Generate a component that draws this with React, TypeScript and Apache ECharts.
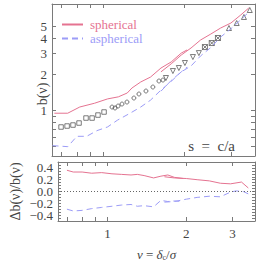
import React, { useEffect, useRef } from "react";
import * as echarts from "echarts";

// ---- data ----
const sphA_nu = [0.66, 0.74, 0.82, 0.93, 1.04, 1.14, 1.23, 1.28, 1.38, 1.5, 1.64, 1.79, 1.95, 2.05];
const sphA_b = [0.95, 0.95, 1.07, 1.15, 1.25, 1.3, 1.4, 1.54, 1.73, 1.9, 2.26, 2.54, 3.01, 3.2];
const sphB_nu = [1.64, 1.79, 1.95, 2.12, 2.3, 2.51, 2.73, 2.98, 3.24, 3.47];
const sphB_b = [2.1, 2.45, 2.9, 3.32, 3.87, 4.34, 4.87, 5.36, 6.25, 7.15];
const aspA_nu = [0.65, 0.74, 0.8, 0.87, 0.95, 1.04, 1.13, 1.26, 1.38, 1.5, 1.64, 1.79, 1.95, 2.05];
const aspA_b = [0.51, 0.5, 0.61, 0.61, 0.68, 0.73, 0.83, 0.95, 1.07, 1.22, 1.48, 1.75, 2.1, 2.3];
const aspB_nu = [1.64, 1.79, 1.95, 2.12, 2.3, 2.51, 2.73, 2.98, 3.24, 3.47];
const aspB_b = [1.45, 1.78, 2.1, 2.35, 2.85, 3.35, 4.1, 4.8, 5.7, 6.6];

const sq_nu = [0.699, 0.736, 0.774, 0.815, 0.865, 0.911, 0.958, 1.009];
const sq_b = [0.729, 0.743, 0.757, 0.787, 0.866, 0.866, 0.917, 0.972];
const ci_nu = [1.08, 1.108, 1.137, 1.176, 1.227, 1.302, 1.359, 1.443, 1.531, 1.612, 1.668];
const ci_b = [1.069, 1.05, 1.09, 1.133, 1.177, 1.271, 1.373, 1.454, 1.57, 1.762, 1.795];
const it_nu = [1.711, 1.816, 1.911, 2.012, 2.154, 2.267];
const it_b = [1.866, 2.133, 2.26, 2.488, 2.79, 3.01];
const xs_nu = [2.387, 2.53, 2.667];
const xs_b = [3.38, 3.65, 4.02];
const tr_nu = [2.93, 3.13, 3.33, 3.5];
const tr_b = [4.87, 5.36, 6.02, 6.88];

const dSphA_nu = [0.7, 0.74, 0.8, 0.87, 0.95, 1.04, 1.13, 1.23, 1.3, 1.38, 1.5, 1.6, 1.7, 1.8, 1.95];
const dSphA = [0.36, 0.33, 0.33, 0.31, 0.32, 0.3, 0.29, 0.28, 0.29, 0.27, 0.23, 0.26, 0.28, 0.24, 0.22];
const dSphB_nu = [1.65, 1.8, 2.0, 2.2, 2.45, 2.7, 2.95, 3.25, 3.45];
const dSphB = [0.25, 0.23, 0.22, 0.2, 0.18, 0.14, 0.13, 0.16, 0.06];
const dAspA_nu = [0.7, 0.74, 0.8, 0.87, 0.95, 1.04, 1.13, 1.23, 1.3, 1.38, 1.5, 1.6, 1.7, 1.8, 1.95];
const dAspA = [-0.3, -0.33, -0.32, -0.29, -0.27, -0.25, -0.23, -0.22, -0.25, -0.24, -0.26, -0.15, -0.17, -0.16, -0.17];
const dAspB_nu = [1.65, 1.8, 2.0, 2.2, 2.45, 2.7, 2.95, 3.1, 3.3, 3.45];
const dAspB = [-0.18, -0.17, -0.13, -0.1, -0.08, -0.09, -0.01, 0.01, 0.0, -0.04];

const xTicks = [0.7, 0.8, 0.9, 1, 2, 3];
const xLabels = [1, 2, 3];
const yTopTicks = [0.5, 0.6, 0.7, 0.8, 0.9, 1, 2, 3, 4, 5];
const yTopLabels = [1, 2, 3, 4, 5];
const yBotLabels = [-0.4, -0.2, 0, 0.2, 0.4];
const yBotTicks = [-0.45, -0.4, -0.35, -0.3, -0.25, -0.2, -0.15, -0.1, -0.05, 0, 0.05, 0.1, 0.15, 0.2, 0.25, 0.3, 0.35, 0.4, 0.45];

const PINK = "#e57391";
const BLUE = "#9c9cf7";
const AX = "#7a7a7a";
const LBL = "#444";
const FONT = "Liberation Serif";

const zip = (a: number[], b: number[]) => a.map((v, i) => [v, b[i]]);

export default function App() {
  const ref = useRef<HTMLDivElement>(null);
  useEffect(() => {
    if (!ref.current) return;
    const chart = echarts.init(ref.current, undefined, { renderer: "svg" });
    const xMin = 0.647, xMax = 3.66;
    const yTopMin = 0.418, yTopMax = 7.72;
    const yBotMin = -0.5, yBotMax = 0.5;
    const frameLine = { show: true, lineStyle: { color: AX, width: 1 } };
    const lblBase = { color: LBL, fontFamily: FONT, fontSize: 13, lineHeight: 11 };
    const mkX = (gi: number, pos: string, labels: boolean, extra: any = {}) => ({
      type: "log", gridIndex: gi, min: xMin, max: xMax, position: pos,
      axisLine: { ...frameLine, onZero: false },
      axisTick: { show: true, inside: true, length: 4, customValues: xTicks, lineStyle: { color: AX } },
      axisLabel: labels
        ? { show: true, customValues: xLabels, ...lblBase, lineHeight: 13, margin: 6 }
        : { show: false },
      splitLine: { show: false }, minorTick: { show: false },
      ...extra,
    });
    const fmtBot = (v: number) => (v < 0 ? "\u2212" + Math.abs(v).toFixed(1) : v.toFixed(1));
    // one label-only axis per tick label, so no label is dropped for overlap
    const labelAxes = (gi: number, type: string, min: number, max: number, vals: number[], fmt?: (v: number) => string) =>
      vals.map((v) => ({
        type, gridIndex: gi, min, max, position: "left",
        axisLine: { show: false, onZero: false }, axisTick: { show: false }, splitLine: { show: false },
        axisLabel: { show: true, customValues: [v], ...lblBase, margin: 5, showMinLabel: true, showMaxLabel: true, ...(fmt ? { formatter: fmt } : {}) },
      }));
    const lineS = (name: string, xi: number, yi: number, d: number[][], color: string, dashed: boolean, extra: any = {}) => ({
      type: "line", name, xAxisIndex: xi, yAxisIndex: yi, data: d, symbol: "none",
      lineStyle: { color, width: 1, type: dashed ? [6, 4] : "solid" }, itemStyle: { color },
      ...extra,
    });
    const mark = (sym: string, d: number[][], size: number, rot = 0) => ({
      type: "scatter", xAxisIndex: 0, yAxisIndex: 0, data: d, symbol: sym, symbolSize: size, symbolRotate: rot,
      itemStyle: { color: "none", borderColor: "#333", borderWidth: 0.8 },
    });
    chart.setOption({
      animation: false,
      grid: [
        { left: 52, right: 7, top: 4, height: 152 },
        { left: 52, right: 7, top: 162, height: 60 },
      ],
      legend: {
        left: 56, top: 13, orient: "vertical", itemWidth: 21, itemHeight: 10, itemGap: 1,
        itemStyle: { opacity: 0 },
        data: [
          { name: "spherical", textStyle: { color: PINK } },
          { name: "aspherical", textStyle: { color: BLUE } },
        ],
        textStyle: { fontFamily: FONT, fontSize: 13, padding: [0, 0, 0, 2] },
      },
      xAxis: [
        mkX(0, "bottom", false),
        mkX(0, "top", false),
        mkX(1, "bottom", true, {
          name: "{i|ν} = {i|δ}{sub|c}/{i|σ}", nameLocation: "middle", nameGap: 26,
          nameTextStyle: {
            color: LBL, fontFamily: FONT, fontSize: 13,
            rich: { i: { fontStyle: "italic", fontFamily: FONT, fontSize: 13, color: LBL }, sub: { fontSize: 8, fontFamily: FONT, color: LBL, verticalAlign: "bottom", padding: [6, 0, 0, 0] } },
          },
        }),
        mkX(1, "top", false),
      ],
      yAxis: [
        {
          type: "log", gridIndex: 0, min: yTopMin, max: yTopMax, position: "left",
          axisLine: frameLine,
          axisTick: { show: true, inside: true, length: 4, customValues: yTopTicks, lineStyle: { color: AX } },
          axisLabel: { show: false },
          splitLine: { show: false },
        },
        {
          type: "log", gridIndex: 0, min: yTopMin, max: yTopMax, position: "right",
          axisLine: frameLine,
          axisTick: { show: true, inside: true, length: 4, customValues: yTopTicks, lineStyle: { color: AX } },
          axisLabel: { show: false }, splitLine: { show: false },
        },
        {
          type: "value", gridIndex: 1, min: yBotMin, max: yBotMax, position: "left",
          axisLine: frameLine,
          axisTick: { show: true, inside: true, length: 3, customValues: yBotTicks, lineStyle: { color: AX } },
          axisLabel: { show: false },
          splitLine: { show: false },
          name: "Δb(ν)/b(ν)", nameLocation: "middle", nameGap: 36, nameRotate: 90,
          nameTextStyle: { color: LBL, fontFamily: FONT, fontSize: 14 },
        },
        {
          type: "value", gridIndex: 1, min: yBotMin, max: yBotMax, position: "right",
          axisLine: frameLine,
          axisTick: { show: true, inside: true, length: 3, customValues: yBotTicks, lineStyle: { color: AX } },
          axisLabel: { show: false }, splitLine: { show: false },
        },
        ...labelAxes(0, "log", yTopMin, yTopMax, yTopLabels),
        ...labelAxes(1, "value", yBotMin, yBotMax, yBotLabels, fmtBot),
      ],
      graphic: [
        {
          type: "text", x: 42, y: 94, rotation: Math.PI / 2,
          style: {
            text: "b(ν)", font: `14px "${FONT}"`, fill: LBL,
            align: "center", verticalAlign: "middle", textAlign: "center", textVerticalAlign: "middle",
          },
        },
        {
          type: "text", right: 27, top: 138,
          style: { text: "s  =  c/a", font: `15px "${FONT}"`, fill: LBL },
        },
      ],
      series: [
        lineS("spherical", 0, 0, zip(sphA_nu, sphA_b), PINK, false),
        lineS("spherical", 0, 0, zip(sphB_nu, sphB_b), PINK, false),
        lineS("aspherical", 0, 0, zip(aspA_nu, aspA_b), BLUE, true),
        lineS("aspherical", 0, 0, zip(aspB_nu, aspB_b), BLUE, true),
        mark("rect", zip(sq_nu, sq_b), 4.5),
        mark("circle", zip(ci_nu, ci_b), 4),
        mark("triangle", zip(it_nu, it_b), 5, 180),
        mark("path://M0,0H10V10H0ZM0,0L10,10M10,0L0,10", zip(xs_nu, xs_b), 5),
        mark("triangle", zip(tr_nu, tr_b), 5),
        lineS("spherical", 2, 2, zip(dSphA_nu, dSphA), PINK, false),
        lineS("spherical", 2, 2, zip(dSphB_nu, dSphB), PINK, false),
        lineS("aspherical", 2, 2, zip(dAspA_nu, dAspA), BLUE, true, {
          markLine: {
            silent: true, symbol: "none", label: { show: false },
            lineStyle: { color: "#666", type: [1, 2], width: 1 },
            data: [{ yAxis: 0 }],
          },
        }),
        lineS("aspherical", 2, 2, zip(dAspB_nu, dAspB), BLUE, true),
      ],
    });
    return () => chart.dispose();
  }, []);
  return <div ref={ref} style={{ width: 262, height: 262, position: "absolute", left: 0, top: 0 }} />;
}
